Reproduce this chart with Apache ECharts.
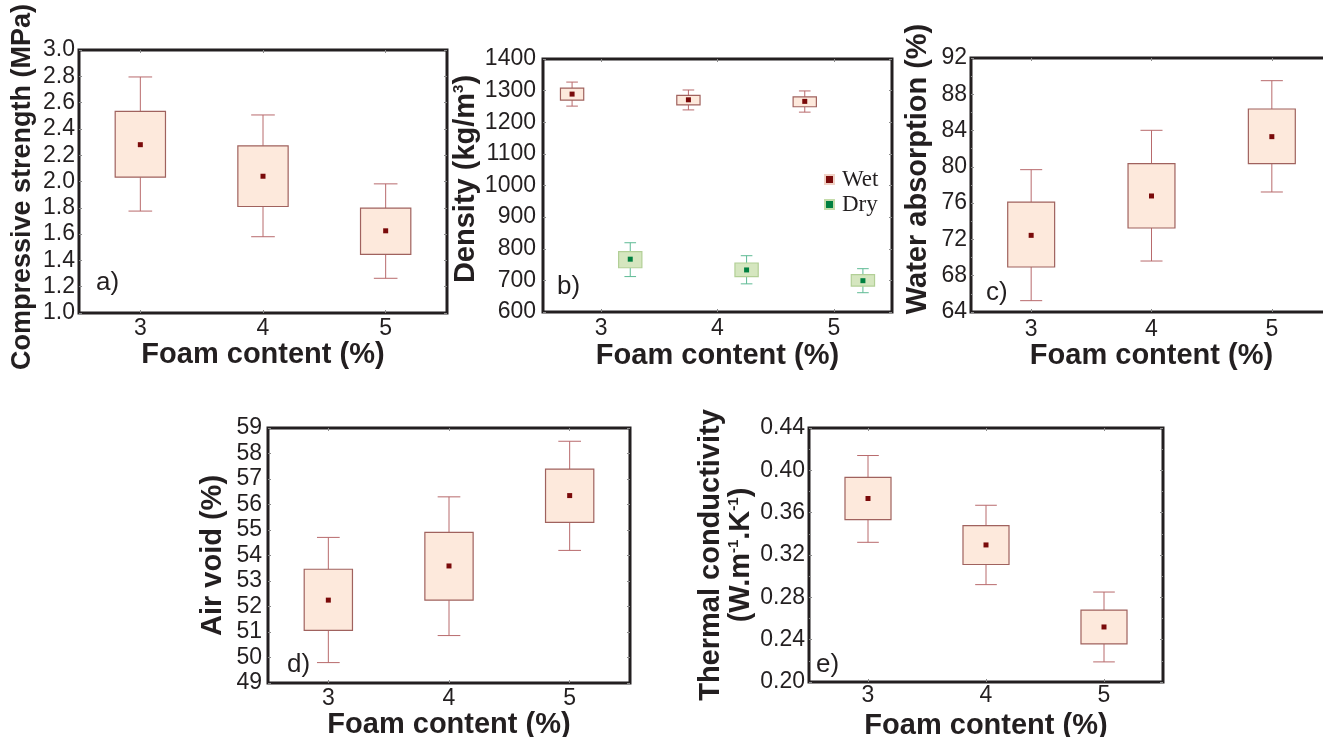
<!DOCTYPE html>
<html>
<head>
<meta charset="utf-8">
<script src="https://cdn.jsdelivr.net/npm/echarts@6/dist/echarts.min.js"></script>
<style>html,body{margin:0;padding:0;background:#fff;}#c{width:1323px;height:737px;}</style>
</head>
<body>
<div id="c"></div>
<script>
// Categories (foam content, %)
const categories = ['3', '4', '5'];
// Each row: [lower whisker, box bottom, mean, box top, upper whisker]
const compressive = [[1.775, 2.033, 2.28, 2.534, 2.795], [1.58, 1.81, 2.04, 2.271, 2.506], [1.264, 1.446, 1.625, 1.797, 1.982]];
const densityWet = [[1251, 1270, 1289, 1308, 1327], [1239, 1255, 1271, 1285, 1302], [1232, 1249, 1266, 1280, 1299]];
const densityDry = [[712, 740, 767, 791, 819], [689, 712, 733, 755, 778], [661, 682, 699, 718, 737]];
const water = [[65.25, 68.96, 72.45, 76.12, 79.69], [69.62, 73.26, 76.79, 80.35, 84.03], [77.23, 80.35, 83.33, 86.38, 89.5]];
const airVoid = [[49.80, 51.06, 52.25, 53.46, 54.71], [50.86, 52.25, 53.59, 54.91, 56.30], [54.20, 55.30, 56.35, 57.39, 58.48]];
const thermal = [[0.332, 0.3535, 0.3734, 0.3933, 0.414], [0.292, 0.311, 0.3295, 0.3478, 0.367], [0.219, 0.236, 0.252, 0.268, 0.285]];
const legendNames = ['Wet', 'Dry'];
const panelLabels = ['a)', 'b)', 'c)', 'd)', 'e)'];

const INK = '#231f20';
const FONT = 'Liberation Sans, Arial, sans-serif';
const WET = {fill: '#fde9dc', stroke: '#a0625e', whisker: '#b86a6c', mean: '#7a0a0a'};
const DRY = {fill: '#d5e6bf', stroke: '#b2cf96', whisker: '#5dba94', mean: '#008040'};

function makeBox(st) {
  return function (params, api) {
    const i = api.value(0);
    const band = api.size([1, 0])[0];
    const base = api.coord([i, api.value(3)]);
    const cx = base[0] + st.offset * band;
    const w = band * st.boxFrac, cw = w * st.capFrac;
    const y = k => api.coord([i, api.value(k)])[1];
    const yLow = y(1), yQ1 = y(2), yMean = y(3), yQ3 = y(4), yHigh = y(5);
    const ls = {stroke: st.whisker, lineWidth: 1};
    return {type: 'group', children: [
      {type: 'line', shape: {x1: cx, y1: yHigh, x2: cx, y2: yQ3}, style: ls},
      {type: 'line', shape: {x1: cx, y1: yQ1, x2: cx, y2: yLow}, style: ls},
      {type: 'line', shape: {x1: cx - cw / 2, y1: yHigh, x2: cx + cw / 2, y2: yHigh}, style: ls},
      {type: 'line', shape: {x1: cx - cw / 2, y1: yLow, x2: cx + cw / 2, y2: yLow}, style: ls},
      {type: 'rect', shape: {x: cx - w / 2, y: yQ3, width: w, height: yQ1 - yQ3}, style: {fill: st.fill, stroke: st.stroke, lineWidth: 1.2}},
      {type: 'rect', shape: {x: cx - 2.5, y: yMean - 2.5, width: 5, height: 5}, style: {fill: st.mean}}
    ]};
  };
}

const grids = [
  {left: 79, top: 50, width: 368, height: 263},
  {left: 543, top: 59, width: 349, height: 253},
  {left: 971, top: 58, width: 361, height: 254},
  {left: 268, top: 428, width: 362, height: 255},
  {left: 809, top: 428, width: 354, height: 254}
];
const yCfg = [
  {min: 1, max: 3, interval: 0.2, fmt: v => v.toFixed(1), margin: 4, name: 'Compressive strength (MPa)', gap: 41, pad: [0, 11, 0, 0], size: 27},
  {min: 600, max: 1400, interval: 100, fmt: v => String(v), margin: 7, name: '{a|Density (kg/m}{s|3}{a|)}', gap: 55, pad: [0, 0, 0, 13], size: 29},
  {min: 64, max: 92, interval: 4, fmt: v => String(v), margin: 4, name: 'Water absorption (%)', gap: 38, pad: [0, 0, 0, 32], size: 29, minor: true},
  {min: 49, max: 59, interval: 1, fmt: v => String(v), margin: 6, name: 'Air void (%)', gap: 40, pad: [0, 0, 0, 0], size: 29},
  {min: 0.2, max: 0.44, interval: 0.04, fmt: v => v.toFixed(2), margin: 4, name: '{a|Thermal conductivity}\n{a|(W.m}{s|-1}{a|.K}{s|-1}{a|)}', gap: 52, pad: [0, 0, 0, 0], size: 29, minor: true}
];
const xCfg = [
  {margin: 4, gap: 26}, {margin: 5, gap: 29}, {margin: 6, gap: 27}, {margin: 4, gap: 26}, {margin: 2, gap: 29}
];

const tickStyle = {show: true, inside: true, length: 3, lineStyle: {color: '#8a8a8a', width: 1}};
const xAxis = [], yAxis = [];
grids.forEach((g, k) => {
  xAxis.push({
    type: 'category', gridIndex: k, data: categories, boundaryGap: true,
    axisLine: {show: false}, axisTick: Object.assign({alignWithLabel: true}, tickStyle),
    axisLabel: {color: INK, fontSize: 23, fontFamily: FONT, margin: xCfg[k].margin},
    name: 'Foam content (%)', nameLocation: 'middle', nameGap: xCfg[k].gap,
    nameTextStyle: {color: INK, fontSize: 29, fontWeight: 'bold', fontFamily: FONT},
    splitLine: {show: false}
  });
});
grids.forEach((g, k) => {
  xAxis.push({
    type: 'category', gridIndex: k, data: categories, boundaryGap: true, position: 'top',
    axisLine: {show: false}, axisTick: Object.assign({alignWithLabel: true}, tickStyle),
    axisLabel: {show: false}, splitLine: {show: false}
  });
});
yCfg.forEach((c, k) => {
  yAxis.push({
    type: 'value', gridIndex: k, min: c.min, max: c.max, interval: c.interval,
    axisLine: {show: false}, axisTick: tickStyle,
    minorTick: c.minor ? {show: true, splitNumber: 2, length: 2, lineStyle: {color: '#8a8a8a'}} : {show: false},
    axisLabel: {color: INK, fontSize: 23, fontFamily: FONT, margin: c.margin, formatter: c.fmt},
    splitLine: {show: false},
    name: c.name, nameLocation: 'middle', nameGap: c.gap, nameRotate: 90,
    nameTextStyle: {
      color: INK, fontSize: c.size, fontWeight: 'bold', fontFamily: FONT, padding: c.pad, lineHeight: 30,
      rich: {
        a: {color: INK, fontSize: c.size, fontWeight: 'bold', fontFamily: FONT, lineHeight: 30},
        s: {color: INK, fontSize: 15, fontWeight: 'bold', fontFamily: FONT, verticalAlign: 'top', lineHeight: 30}
      }
    }
  });
});
yCfg.forEach((c, k) => {
  yAxis.push({
    type: 'value', gridIndex: k, min: c.min, max: c.max, interval: c.interval, position: 'right',
    axisLine: {show: false}, axisTick: tickStyle,
    minorTick: c.minor ? {show: true, splitNumber: 2, length: 2, lineStyle: {color: '#8a8a8a'}} : {show: false},
    axisLabel: {show: false}, splitLine: {show: false}
  });
});

function boxSeries(name, rows, k, st) {
  return {
    type: 'custom', name: name, xAxisIndex: k, yAxisIndex: k,
    data: rows.map((r, i) => [i].concat(r)),
    encode: {x: 0, y: [1, 2, 3, 4, 5]},
    itemStyle: {color: st.mean},
    renderItem: makeBox(st), z: 3
  };
}

const series = [
  boxSeries('Compressive', compressive, 0, Object.assign({offset: 0, boxFrac: 0.41, capFrac: 0.47}, WET)),
  boxSeries(legendNames[0], densityWet, 1, Object.assign({offset: -0.25, boxFrac: 0.2, capFrac: 0.5}, WET)),
  boxSeries(legendNames[1], densityDry, 1, Object.assign({offset: 0.25, boxFrac: 0.2, capFrac: 0.5}, DRY)),
  boxSeries('Water', water, 2, Object.assign({offset: 0, boxFrac: 0.39, capFrac: 0.47}, WET)),
  boxSeries('Air', airVoid, 3, Object.assign({offset: 0, boxFrac: 0.4, capFrac: 0.47}, WET)),
  boxSeries('Thermal', thermal, 4, Object.assign({offset: 0, boxFrac: 0.39, capFrac: 0.47}, WET))
];

const labelPos = [[96, 270], [557, 274], [986, 280], [287, 652], [816, 652]];
const graphic = panelLabels.map((t, k) => ({
  type: 'text', left: labelPos[k][0], top: labelPos[k][1], z: 10,
  style: {text: t, fill: INK, font: '26px Liberation Sans, Arial, sans-serif'}
}));

const option = {
  animation: false,
  backgroundColor: '#ffffff',
  grid: grids.map(g => Object.assign({show: true, borderColor: INK, borderWidth: 3, backgroundColor: 'transparent', containLabel: false, outerBoundsMode: 'none'}, g)),
  xAxis: xAxis,
  yAxis: yAxis,
  legend: {
    data: [
      {name: legendNames[0], icon: 'rect', itemStyle: {color: WET.mean, borderColor: '#f0d2c6', borderWidth: 2}},
      {name: legendNames[1], icon: 'rect', itemStyle: {color: DRY.mean, borderColor: '#c4dcaa', borderWidth: 2}}
    ],
    orient: 'vertical', left: 824, top: 168, padding: 0, itemWidth: 9, itemHeight: 9, itemGap: 2,
    textStyle: {color: INK, fontSize: 23, fontFamily: 'Liberation Serif, Times New Roman, serif', padding: [0, 0, 0, 3]}
  },
  graphic: graphic,
  series: series
};

const chart = echarts.init(document.getElementById('c'), null, {renderer: 'canvas'});
chart.setOption(option);
</script>
</body>
</html>
